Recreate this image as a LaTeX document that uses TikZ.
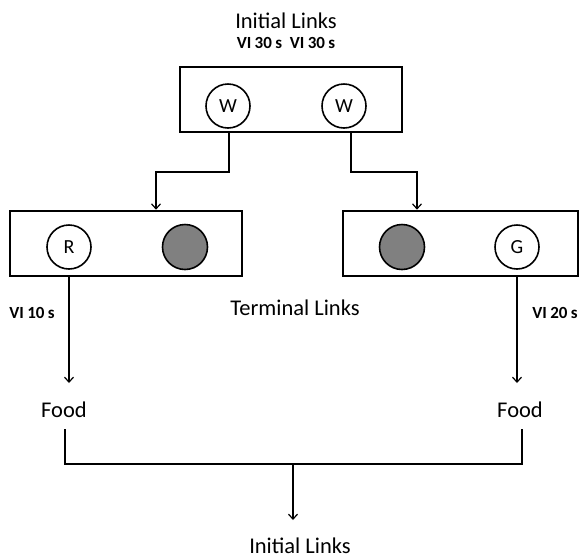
\documentclass[tikz,border=0pt]{standalone}
\usepackage{fontspec}
\setmainfont{Carlito}
\usetikzlibrary{arrows.meta,calc}
\newcommand{\tsp}{\hspace{0.2em}}
\begin{document}
\begin{tikzpicture}[x=1pt,y=-1pt,
  box/.style={draw,line width=2.6pt,inner sep=0pt,minimum height=65pt},
  key/.style={circle,draw,line width=1.6pt,minimum size=44pt,inner sep=0pt,font=\fontsize{20}{24}\selectfont},
  darkkey/.style={circle,draw,line width=1.6pt,fill=gray,minimum size=45pt,inner sep=0pt},
  big/.style={font=\fontsize{22.5}{26}\selectfont,inner sep=0pt},
  small/.style={font=\fontsize{17}{20}\selectfont\bfseries,inner sep=0pt},
  conn/.style={line width=1.2pt},
  arr/.style={conn,-{Straight Barb[length=5pt,width=9pt,line width=1.2pt]}}]
\useasboundingbox (0,0) rectangle (580,558);
% titles
\node[big] (tit) at (286,21) {Initial Links};
\node[small] (vi30) at (286,43) {VI\tsp30\tsp s\ \ VI\tsp30\tsp s};
% top box
\node[box,minimum width=222pt] (top) at (291,99.5) {};
\node[key] (w1) at (228,106) {W};
\node[key] (w2) at (344,106) {W};
% terminal boxes
\node[box,minimum width=232pt] (lb) at (126,243.5) {};
\node[box,minimum width=235pt] (rb) at (460.5,243.5) {};
\node[key] (r) at (69,247) {R};
\node[darkkey] (gl) at (185,247) {};
\node[darkkey] (gr) at (402,247) {};
\node[key] (g) at (517,247) {G};
% connectors top -> terminal
\coordinate (bl) at (156,172);
\coordinate (br) at (417,172);
\draw[arr] (229,132) |- (bl) -- (bl |- lb.north);
\draw[arr] (351,132) |- (br) -- (br |- rb.north);
% labels
\node[big] (term) at (295,308) {Terminal Links};
\node[small] (vi10) at (32,313) {VI\tsp10\tsp s};
\node[small] (vi20) at (555,313) {VI\tsp20\tsp s};
% to food
\node[big] (foodl) at (64,410) {Food};
\node[big] (foodr) at (520,410) {Food};
\coordinate (al) at (69,383);
\coordinate (ar) at (517,383);
\draw[arr] (r |- lb.south) -- (al);
\draw[arr] (g |- rb.south) -- (ar);
% bottom
\coordinate (fl) at (65,429);
\coordinate (fr) at (522,429);
\coordinate (mid) at (293,464);
\draw[conn] (fl) |- (mid) -| (fr);
\node[big] (fin) at (300,546) {Initial Links};
\coordinate (af) at (293,520);
\draw[arr] (mid) -- (af);
\end{tikzpicture}
\end{document}
